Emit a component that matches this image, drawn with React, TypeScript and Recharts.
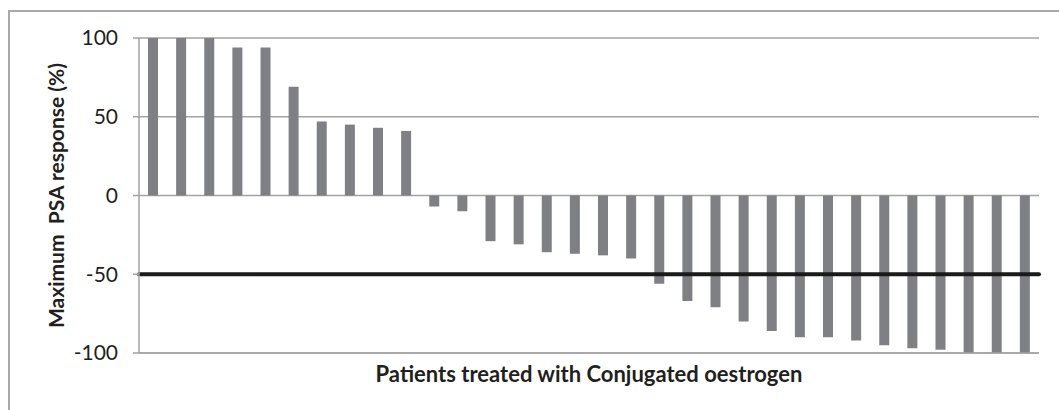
import React from "react";
import {
  BarChart,
  Bar,
  XAxis,
  YAxis,
  CartesianGrid,
  ReferenceLine,
} from "recharts";

// one bar per patient, sorted waterfall style
const patients = Array.from({ length: 32 }, (_, i) => `P${i + 1}`);
const psaResponse = [
  100, 100, 100, 94, 94, 69, 47, 45, 43, 41,
  -7, -10, -29, -31, -36, -37, -38, -40, -56, -67,
  -71, -80, -86, -90, -90, -92, -95, -97, -98, -100,
  -100, -100,
];
const yTicks = [-100, -50, 0, 50, 100];
const responseThreshold = -50;

const data = patients.map((p, i) => ({ patient: p, value: psaResponse[i] }));

const FONT = "Lato, 'Open Sans', sans-serif";
const GRID = "#a3a3a3";

const YTitle = ({ viewBox }: any) => {
  const cx = 55;
  const cy = viewBox.y + viewBox.height / 2;
  return (
    <text
      x={cx}
      y={cy}
      transform={`rotate(-90, ${cx}, ${cy})`}
      textAnchor="middle"
      dominantBaseline="central"
      fontFamily={FONT}
      fontWeight={700}
      fontSize={21}
      fill="#231f20"
      style={{ whiteSpace: "pre" }}
    >
      {"Maximum  PSA response (%)"}
    </text>
  );
};

const XTitle = ({ viewBox }: any) => {
  const cx = viewBox.x + viewBox.width / 2;
  return (
    <text
      x={cx}
      y={373}
      textAnchor="middle"
      dominantBaseline="central"
      fontFamily={FONT}
      fontWeight={700}
      fontSize={22}
      fill="#231f20"
    >
      Patients treated with Conjugated oestrogen
    </text>
  );
};

export default function App() {
  return (
    <div
      style={{
        position: "absolute",
        left: 0,
        top: 0,
        width: 1059,
        height: 410,
        overflow: "hidden",
        background: "#fff",
      }}
    >
      <div
        style={{
          position: "absolute",
          left: 8,
          top: 10,
          width: 1080,
          height: 440,
          border: "2px solid #a8a8a8",
        }}
      />
      <div style={{ position: "absolute", left: 0, top: 0 }}>
        <BarChart
          width={1059}
          height={410}
          data={data}
          margin={{ top: 38, right: 20, bottom: 17, left: 79 }}
          barCategoryGap={0}
        >
          <CartesianGrid vertical={false} stroke={GRID} strokeWidth={1.5} />
          <XAxis
            dataKey="patient"
            tick={false}
            tickLine={false}
            axisLine={{ stroke: GRID, strokeWidth: 1.5 }}
            height={40}
            label={<XTitle />}
          />
          <YAxis
            domain={[-100, 100]}
            ticks={yTicks}
            width={60}
            tickSize={6}
            tickMargin={15}
            axisLine={{ stroke: GRID, strokeWidth: 1.5 }}
            tickLine={{ stroke: GRID, strokeWidth: 1.5 }}
            tick={{ fontFamily: FONT, fontSize: 21, fill: "#231f20" }}
            label={<YTitle />}
          />
          <Bar
            dataKey="value"
            fill="#7f8084"
            barSize={10}
            isAnimationActive={false}
          />
          <ReferenceLine
            y={responseThreshold}
            stroke="#1a1a1a"
            strokeWidth={4}
            strokeLinecap="round"
          />
        </BarChart>
      </div>
    </div>
  );
}
